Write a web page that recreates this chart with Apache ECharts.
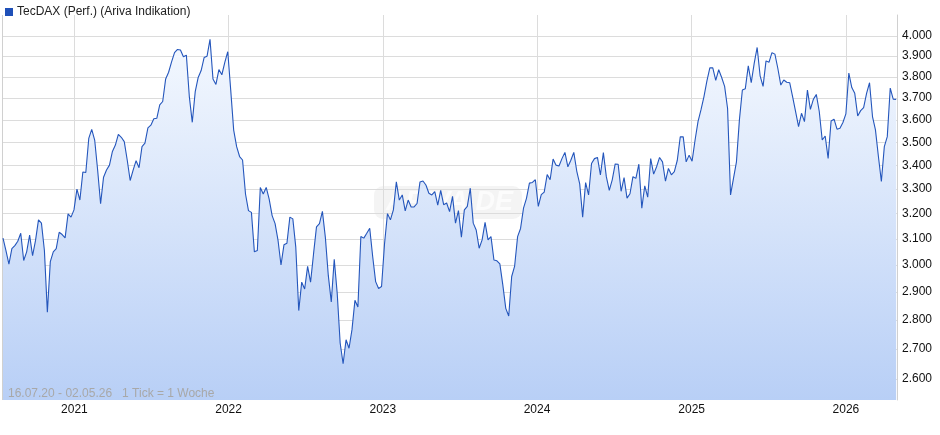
<!DOCTYPE html>
<html>
<head>
<meta charset="utf-8">
<script src="https://cdn.jsdelivr.net/npm/echarts@6/dist/echarts.min.js"></script>
<style>
html,body{margin:0;padding:0;background:#fff;}
#chart{width:940px;height:435px;}
</style>
</head>
<body>
<div id="chart"></div>
<script>
// weekly closes, first week 16.07.2020
const startDate = '2020-07-16';
const seriesName = 'TecDAX (Perf.) (Ariva Indikation)';
const values = [
3103,3055,3003,3062,3074,3091,3122,3017,3050,3115,3035,3094,3175,3162,3055,2827,3013,3050,3062,3126,
3117,3104,3199,3186,3215,3300,3255,3372,3370,3517,3557,3510,3380,3240,3350,3380,3401,3460,3488,3535,
3522,3503,3423,3336,3380,3420,3390,3481,3496,3564,3576,3605,3607,3668,3684,3790,3822,3872,3917,3933,
3930,3897,3905,3707,3589,3730,3797,3830,3893,3900,3983,3790,3764,3835,3810,3870,3922,3737,3554,3481,
3438,3423,3280,3212,3205,3050,3055,3307,3280,3307,3259,3192,3160,3094,3000,3077,3083,3186,3179,3068,
2833,2936,2911,2995,2936,3042,3147,3160,3209,3106,2960,2864,3022,2896,2720,2650,2731,2702,2766,2870,
2846,3109,3103,3122,3142,3032,2938,2913,2920,3080,3200,3175,3215,3330,3255,3276,3211,3255,3227,3227,
3241,3330,3334,3317,3283,3276,3290,3234,3295,3236,3243,3208,3270,3162,3212,3107,3215,3229,3304,3162,
3135,3064,3096,3165,3096,3109,3019,3016,3004,2926,2841,2814,2957,2996,3109,3141,3222,3262,3325,3328,
3339,3229,3277,3288,3361,3339,3427,3401,3397,3429,3456,3394,3422,3456,3376,3322,3186,3327,3276,3408,
3429,3434,3359,3455,3352,3295,3339,3406,3405,3291,3348,3263,3281,3352,3345,3405,3222,3314,3267,3429,
3363,3394,3434,3415,3333,3387,3360,3373,3422,3524,3524,3415,3444,3418,3509,3592,3645,3706,3780,3843,
3843,3783,3834,3797,3755,3652,3276,3345,3415,3600,3738,3744,3853,3772,3865,3943,3805,3755,3877,3870,
3917,3910,3840,3761,3785,3774,3772,3706,3638,3570,3630,3592,3737,3648,3694,3717,3638,3510,3528,3430,
3595,3603,3558,3562,3588,3627,3818,3749,3722,3618,3642,3656,3722,3772,3615,3555,3438,3332,3481,3525,
3747,3695,3694
];
const yTicks = [2600,2700,2800,2900,3000,3100,3200,3300,3400,3500,3600,3700,3800,3900,4000];
const yearTicks = ['2021-01-01','2022-01-01','2023-01-01','2024-01-01','2025-01-01','2026-01-01'];
const rangeText = '16.07.20 - 02.05.26   1 Tick = 1 Woche';
const axisStart = '2020-07-16';
const axisEnd = '2026-05-02';
const yMin = 2532, yMax = 4107;

const DAY = 86400000;
const t0 = Date.parse(startDate + 'T00:00:00Z');
const data = values.map((v, i) => [t0 + i * 7 * DAY, Math.log(v)]);
const fmt = n => String(n).replace(/\B(?=(\d{3})+(?!\d))/g, '.');
const yTickLog = yTicks.map(v => Math.log(v));
const yearTs = yearTicks.map(d => Date.parse(d + 'T00:00:00Z'));

const chart = echarts.init(document.getElementById('chart'), null, {renderer: 'canvas'});
chart.setOption({
  animation: false,
  textStyle: {fontFamily: 'Liberation Sans, Arial, sans-serif'},
  grid: {left: 3, right: 43, top: 15, bottom: 35, containLabel: false},
  legend: {
    data: [seriesName], left: 0, top: 1, icon: 'rect', itemWidth: 8, itemHeight: 8, itemGap: 4,
    textStyle: {fontSize: 12, color: '#222', fontFamily: 'Liberation Sans, Arial, sans-serif', padding: [0,0,0,-1]},
    selectedMode: false
  },
  xAxis: {
    type: 'value',
    min: Date.parse(axisStart + 'T00:00:00Z'),
    max: Date.parse(axisEnd + 'T00:00:00Z'),
    axisLine: {show: false},
    axisTick: {show: false, customValues: yearTs},
    axisLabel: {customValues: yearTs, formatter: v => String(new Date(v).getUTCFullYear()), color: '#111', fontSize: 12, margin: 4},
    splitLine: {show: true, lineStyle: {color: '#dcdcdc', width: 1}}
  },
  yAxis: {
    type: 'value',
    position: 'right',
    min: Math.log(yMin), max: Math.log(yMax),
    axisLine: {show: true, lineStyle: {color: '#d0d0d0'}},
    axisTick: {show: false, customValues: yTickLog},
    axisLabel: {customValues: yTickLog, formatter: v => fmt(Math.round(Math.exp(v))), color: '#111', fontSize: 12, margin: 5},
    splitLine: {show: true, lineStyle: {color: '#dcdcdc', width: 1}}
  },
  graphic: [
    {type: 'line', shape: {x1: 2.5, y1: 15, x2: 2.5, y2: 400}, style: {stroke: '#d0d0d0', lineWidth: 1}, z: 1},
    {type: 'group', left: 374, top: 186, z: 100, children: [
      {type: 'rect', shape: {x: 0, y: 0, width: 148, height: 33, r: 9}, style: {fill: 'rgba(215,215,215,0.28)'}},
      {type: 'text', x: 12, y: 3, style: {text: 'ARIVA.DE', font: 'italic bold 27px Liberation Sans, Arial, sans-serif', fill: 'rgba(255,255,255,0.7)'}}
    ]},
    {type: 'text', left: 8, top: 388, z: 10, style: {text: rangeText, font: '12px Liberation Sans, Arial, sans-serif', fill: '#a8a8a8'}}
  ],
  series: [{
    name: seriesName,
    type: 'line',
    data: data,
    showSymbol: false,
    symbol: 'none',
    color: '#1f50b8',
    lineStyle: {color: '#2456bc', width: 1.1},
    areaStyle: {
      origin: 'start',
      opacity: 1,
      color: {type: 'linear', x: 0, y: 15, x2: 0, y2: 400, global: true,
        colorStops: [{offset: 0, color: '#f8fbff'}, {offset: 1, color: '#b8cff6'}]}
    },
    z: 3
  }]
});
</script>
</body>
</html>
